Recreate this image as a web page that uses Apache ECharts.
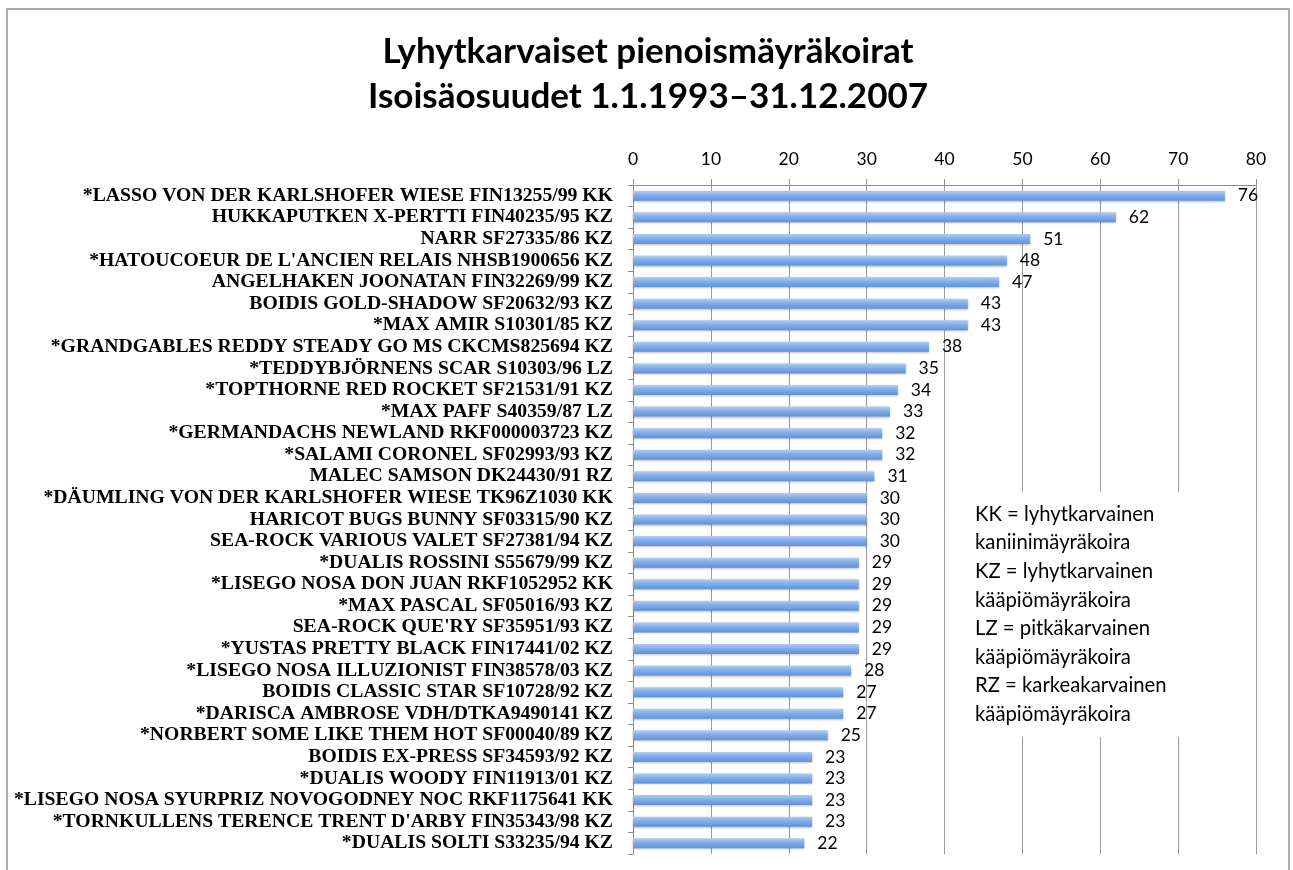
<!DOCTYPE html>
<html><head><meta charset="utf-8">
<script src="https://cdn.jsdelivr.net/npm/echarts@6/dist/echarts.min.js"></script>
<style>html,body{margin:0;padding:0;background:#fff}#c{width:1293px;height:870px}</style>
</head><body><div id="c"></div>
<script>
const titleLines = ["Lyhytkarvaiset pienoismäyräkoirat", "Isoisäosuudet 1.1.1993–31.12.2007"];
const categories = [
"*LASSO VON DER KARLSHOFER WIESE FIN13255/99 KK",
"HUKKAPUTKEN X-PERTTI FIN40235/95 KZ",
"NARR SF27335/86 KZ",
"*HATOUCOEUR DE L'ANCIEN RELAIS NHSB1900656 KZ",
"ANGELHAKEN JOONATAN FIN32269/99 KZ",
"BOIDIS GOLD-SHADOW SF20632/93 KZ",
"*MAX AMIR S10301/85 KZ",
"*GRANDGABLES REDDY STEADY GO MS CKCMS825694 KZ",
"*TEDDYBJÖRNENS SCAR S10303/96 LZ",
"*TOPTHORNE RED ROCKET SF21531/91 KZ",
"*MAX PAFF S40359/87 LZ",
"*GERMANDACHS NEWLAND RKF000003723 KZ",
"*SALAMI CORONEL SF02993/93 KZ",
"MALEC SAMSON DK24430/91 RZ",
"*DÄUMLING VON DER KARLSHOFER WIESE TK96Z1030 KK",
"HARICOT BUGS BUNNY SF03315/90 KZ",
"SEA-ROCK VARIOUS VALET SF27381/94 KZ",
"*DUALIS ROSSINI S55679/99 KZ",
"*LISEGO NOSA DON JUAN RKF1052952 KK",
"*MAX PASCAL SF05016/93 KZ",
"SEA-ROCK QUE'RY SF35951/93 KZ",
"*YUSTAS PRETTY BLACK FIN17441/02 KZ",
"*LISEGO NOSA ILLUZIONIST FIN38578/03 KZ",
"BOIDIS CLASSIC STAR SF10728/92 KZ",
"*DARISCA AMBROSE VDH/DTKA9490141 KZ",
"*NORBERT SOME LIKE THEM HOT SF00040/89 KZ",
"BOIDIS EX-PRESS SF34593/92 KZ",
"*DUALIS WOODY FIN11913/01 KZ",
"*LISEGO NOSA SYURPRIZ NOVOGODNEY NOC RKF1175641 KK",
"*TORNKULLENS TERENCE TRENT D'ARBY FIN35343/98 KZ",
"*DUALIS SOLTI S33235/94 KZ"
];
const values = [76,62,51,48,47,43,43,38,35,34,33,32,32,31,30,30,30,29,29,29,29,29,28,27,27,25,23,23,23,23,22];
const legendLines = [
"KK = lyhytkarvainen","kaniinimäyräkoira",
"KZ = lyhytkarvainen","kääpiömäyräkoira",
"LZ = pitkäkarvainen","kääpiömäyräkoira",
"RZ = karkeakarvainen","kääpiömäyräkoira"
];
const axisMin = 0, axisMax = 80, axisStep = 10;

const sans = 'Lato, "Open Sans", sans-serif';
const chart = echarts.init(document.getElementById('c'), null, {renderer:'canvas'});
chart.setOption({
  animation:false,
  backgroundColor:'#fff',
  title:{
    text: titleLines.join('\n'),
    left: 643, top:24, textAlign:'center',
    textStyle:{fontFamily:sans, fontWeight:'bold', fontSize:35, lineHeight:45, color:'#000'}
  },
  grid:{left:633, right:37, top:185, bottom:16, containLabel:false},
  xAxis:{
    type:'value', position:'top', min:axisMin, max:axisMax, interval:axisStep,
    axisLine:{show:true, lineStyle:{color:'#8c8c8c', width:1}},
    axisTick:{show:true, length:6, lineStyle:{color:'#8c8c8c'}},
    splitLine:{show:true, lineStyle:{color:'#9a9a9a', width:1}},
    axisLabel:{margin:17, fontFamily:sans, fontSize:17.5, color:'#000'}
  },
  yAxis:{
    type:'category', inverse:true, data:categories,
    axisLine:{show:true, lineStyle:{color:'#8c8c8c'}},
    axisTick:{show:true, length:5, lineStyle:{color:'#8c8c8c'}},
    axisLabel:{interval:0, margin:20, fontFamily:'"Liberation Serif", "DejaVu Serif", serif', fontWeight:'bold', fontSize:19.7, color:'#000'}
  },
  series:[{
    type:'bar', data:values, barWidth:10,
    itemStyle:{
      color:new echarts.graphic.LinearGradient(0,0,0,1,[
        {offset:0,color:'#b0cdf3'},{offset:0.45,color:'#82ade8'},{offset:1,color:'#5f92d8'}]),
      shadowColor:'rgba(0,0,0,0.25)', shadowBlur:2, shadowOffsetY:1
    },
    label:{show:true, position:'right', distance:13, fontFamily:sans, fontSize:17.5, color:'#000'}
  }],
  graphic:[
    {type:'rect', z:100, shape:{x:7, y:9, width:1282, height:900}, style:{fill:null, stroke:'#aaaaaa', lineWidth:2}, silent:true},
    {type:'rect', z:50, shape:{x:952, y:492, width:292, height:245}, style:{fill:'#fff'}, silent:true},
    {type:'text', z:51, left:975, top:500, style:{text:legendLines.join('\n'), fontFamily:sans, fontSize:20.3, lineHeight:28.6, fill:'#000'}}
  ]
});
</script></body></html>
